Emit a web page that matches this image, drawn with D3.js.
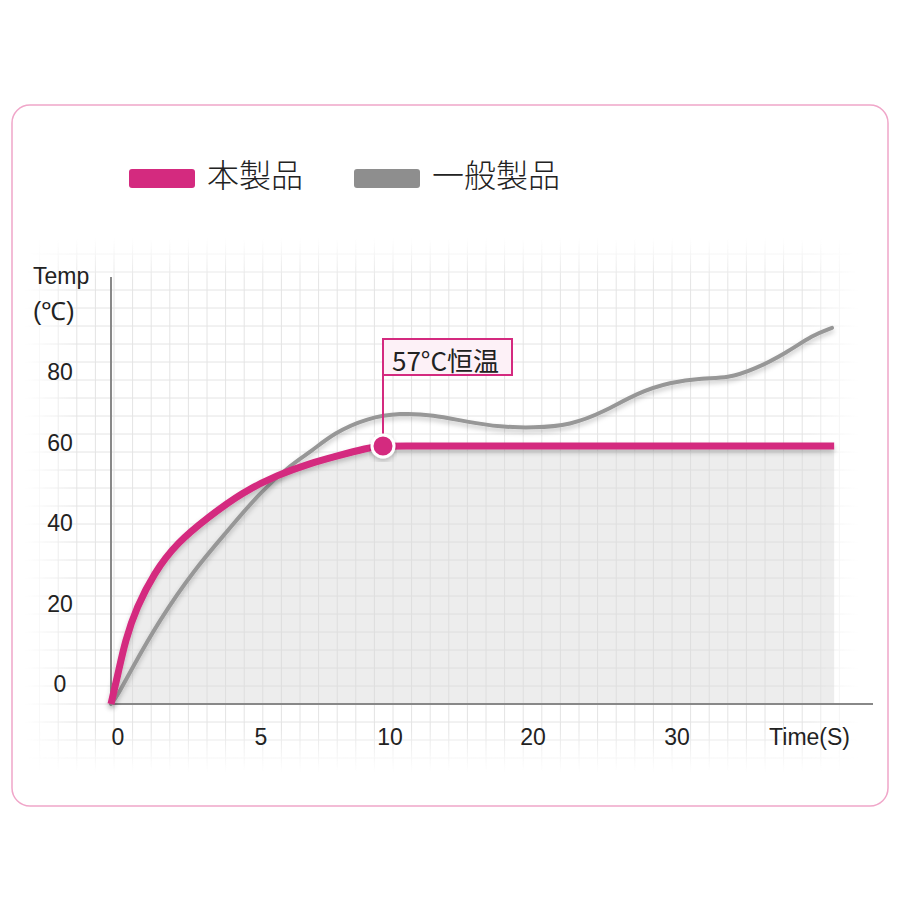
<!DOCTYPE html>
<html>
<head>
<meta charset="utf-8">
<script src="https://cdn.jsdelivr.net/npm/d3@7"></script>
<style>
  html, body { margin: 0; padding: 0; background: #fff; }
  svg { display: block; }
  text { font-family: "Liberation Sans", Arial, sans-serif; fill: #222; }
  .cjk { font-family: "Noto Sans CJK JP", "Noto Sans", sans-serif; font-weight: 300; }
</style>
</head>
<body>
<div id="chart"></div>
<script>
// series names
const seriesNames = ["本製品", "一般製品"];

// this product: time (s) / temp
const ourTime = [0, 0, 0.25, 0.5, 0.9, 1.5, 2.3, 3.4, 4.6, 5.9, 7.2, 8.1, 9.4, 10, 10, 20, 30, 41.4, 41.4];
const ourTemp = [0, 0, 6.8, 14.1, 21.4, 28.9, 35.6, 41.3, 46.8, 50.6, 53.2, 54.6, 56.6, 57, 57, 57, 57, 57, 57];

// ordinary product
const otherTime = [0, 0, 0.2, 0.7, 1.7, 2.9, 4.1, 5.2, 6.5, 7.2, 8.1, 9.4, 11.2, 13.5, 15.9, 18.2, 20.5, 23.1, 25.4, 27.7, 30, 32.3, 34, 35.8, 38.1, 39.9, 41.25, 41.25];
const otherTemp = [0, 0, 1.5, 7.5, 18.6, 29.6, 38.4, 46.6, 53.2, 55.7, 59.9, 63.2, 64.3, 63.9, 62.3, 61.2, 61.0, 61.6, 64.5, 68.7, 71.1, 72.0, 72.0, 73.8, 77.6, 81.5, 83.1, 83.1];

// axis ticks
const xTicks = [0, 5, 10, 20, 30];
const yTicks = [0, 20, 40, 60, 80];
const xTitle = "Time(S)";
const yTitle = ["Temp", "(℃)"];
const calloutTime = 10;
const calloutTemp = 57;
const calloutText = "57°C恒温";

const W = 900, H = 900;
const pink = "#d42a7f", grey = "#979797";

const svg = d3.select("#chart").append("svg")
  .attr("width", W).attr("height", H);

const defs = svg.append("defs");
const shadow = defs.append("filter").attr("id", "shadow")
  .attr("x", "-10%").attr("y", "-10%").attr("width", "120%").attr("height", "130%");
shadow.append("feDropShadow").attr("dx", 0).attr("dy", 3).attr("stdDeviation", 2.5)
  .attr("flood-color", "#000").attr("flood-opacity", 0.22);

// fade masks for grid
const gH = defs.append("linearGradient").attr("id", "fadeH");
[[0, 0], [0.06, 1], [0.94, 1], [1, 0]].forEach(([o, a]) =>
  gH.append("stop").attr("offset", o).attr("stop-color", "#fff").attr("stop-opacity", a));
const gV = defs.append("linearGradient").attr("id", "fadeV").attr("x2", 0).attr("y2", 1);
[[0, 0], [0.08, 1], [0.92, 1], [1, 0]].forEach(([o, a]) =>
  gV.append("stop").attr("offset", o).attr("stop-color", "#fff").attr("stop-opacity", a));
const gx0 = 25, gx1 = 858, gy0 = 238, gy1 = 772;
defs.append("mask").attr("id", "maskH").attr("maskUnits", "userSpaceOnUse")
  .append("rect").attr("x", gx0).attr("y", gy0).attr("width", gx1 - gx0).attr("height", gy1 - gy0)
  .attr("fill", "url(#fadeH)");
defs.append("mask").attr("id", "maskV").attr("maskUnits", "userSpaceOnUse")
  .append("rect").attr("x", gx0).attr("y", gy0).attr("width", gx1 - gx0).attr("height", gy1 - gy0)
  .attr("fill", "url(#fadeV)");

// card
svg.append("rect")
  .attr("x", 12).attr("y", 105).attr("width", 876).attr("height", 701)
  .attr("rx", 18).attr("fill", "#fff")
  .attr("stroke", "#f0a6c9").attr("stroke-width", 1.5);

// scales
const x = d3.scaleLinear().domain([0, 5, 10, 20, 30]).range([111, 254, 383, 526, 670]);
const y = d3.scaleLinear().domain([0, 57]).range([704, 446]);
const yLabel = d3.scaleLinear().domain([0, 20, 40, 60, 80]).range([692, 612, 531, 451, 380]);

// grid
const grid = svg.append("g").attr("mask", "url(#maskH)")
  .append("g").attr("mask", "url(#maskV)")
  .attr("stroke", "#e4e4e4").attr("stroke-width", 1);
grid.selectAll(".gv").data(d3.range(114 - 18.6 * 5, gx1, 18.6)).enter()
  .append("line").attr("x1", d => d).attr("x2", d => d).attr("y1", gy0).attr("y2", gy1);
grid.selectAll(".gh").data(d3.range(704 + 18 * 3, gy0, -18)).enter()
  .append("line").attr("y1", d => d).attr("y2", d => d).attr("x1", gx0).attr("x2", gx1);

const ours = ourTime.map((t, i) => [t, ourTemp[i]]);
const other = otherTime.map((t, i) => [t, otherTemp[i]]);

// fill below this product's curve
svg.append("path")
  .datum(ours)
  .attr("fill", "#d8d8d8").attr("fill-opacity", 0.45)
  .attr("d", d3.area().x(d => x(d[0])).y0(y(0)).y1(d => y(d[1])).curve(d3.curveBasis));

// axes
svg.append("line").attr("x1", x(0)).attr("x2", x(0)).attr("y1", 277).attr("y2", y(0))
  .attr("stroke", "#888").attr("stroke-width", 2);
svg.append("line").attr("x1", x(0) - 1).attr("x2", 873).attr("y1", y(0)).attr("y2", y(0))
  .attr("stroke", "#888").attr("stroke-width", 2);

const line = d3.line().x(d => x(d[0])).y(d => y(d[1])).curve(d3.curveBasis);

svg.append("path").datum(other)
  .attr("fill", "none").attr("stroke", grey).attr("stroke-width", 4)
  .attr("stroke-linecap", "round").attr("filter", "url(#shadow)")
  .attr("d", line);

svg.append("path").datum(ours)
  .attr("fill", "none").attr("stroke", pink).attr("stroke-width", 7)
  .attr("filter", "url(#shadow)")
  .attr("d", line);

// callout
const cx = x(calloutTime), cy = y(calloutTemp);
svg.append("line").attr("x1", cx).attr("x2", cx).attr("y1", cy).attr("y2", 375)
  .attr("stroke", pink).attr("stroke-width", 2);
svg.append("rect").attr("x", cx).attr("y", 339).attr("width", 129).attr("height", 36)
  .attr("fill", "#fdf1f7").attr("stroke", pink).attr("stroke-width", 2);
svg.append("text").attr("class", "cjk").attr("x", cx + 9).attr("y", 371)
  .attr("font-size", 26).style("font-weight", 400).attr("fill", "#3a3a3a")
  .text(calloutText);
svg.append("circle").attr("cx", cx).attr("cy", cy).attr("r", 11)
  .attr("fill", pink).attr("stroke", "#fff").attr("stroke-width", 3)
  .attr("filter", "url(#shadow)");

// tick labels
svg.selectAll(".xt").data(xTicks).enter().append("text")
  .attr("x", d => x(d) + 7).attr("y", 745)
  .attr("text-anchor", "middle").attr("font-size", 23)
  .text(d => d);
svg.append("text").attr("x", 850).attr("y", 745).attr("text-anchor", "end")
  .attr("font-size", 23).text(xTitle);

svg.selectAll(".yt").data(yTicks).enter().append("text")
  .attr("x", 60).attr("y", d => yLabel(d))
  .attr("text-anchor", "middle").attr("font-size", 23)
  .text(d => d);
svg.selectAll(".ytitle").data(yTitle).enter().append("text")
  .attr("x", 33).attr("y", (d, i) => 284 + i * 36)
  .attr("font-size", (d, i) => i ? 25 : 23)
  .text(d => d);

// legend
const legendColors = [pink, "#8e8e8e"];
const legendX = [129, 354];
const lg = svg.selectAll(".lg").data(seriesNames).enter().append("g")
  .attr("transform", (d, i) => `translate(${legendX[i]},169)`);
lg.append("rect").attr("width", 66).attr("height", 19).attr("rx", 3)
  .attr("fill", (d, i) => legendColors[i]);
lg.append("text").attr("class", "cjk").attr("x", 78).attr("y", 18)
  .attr("font-size", 32).text(d => d);
</script>
</body>
</html>
